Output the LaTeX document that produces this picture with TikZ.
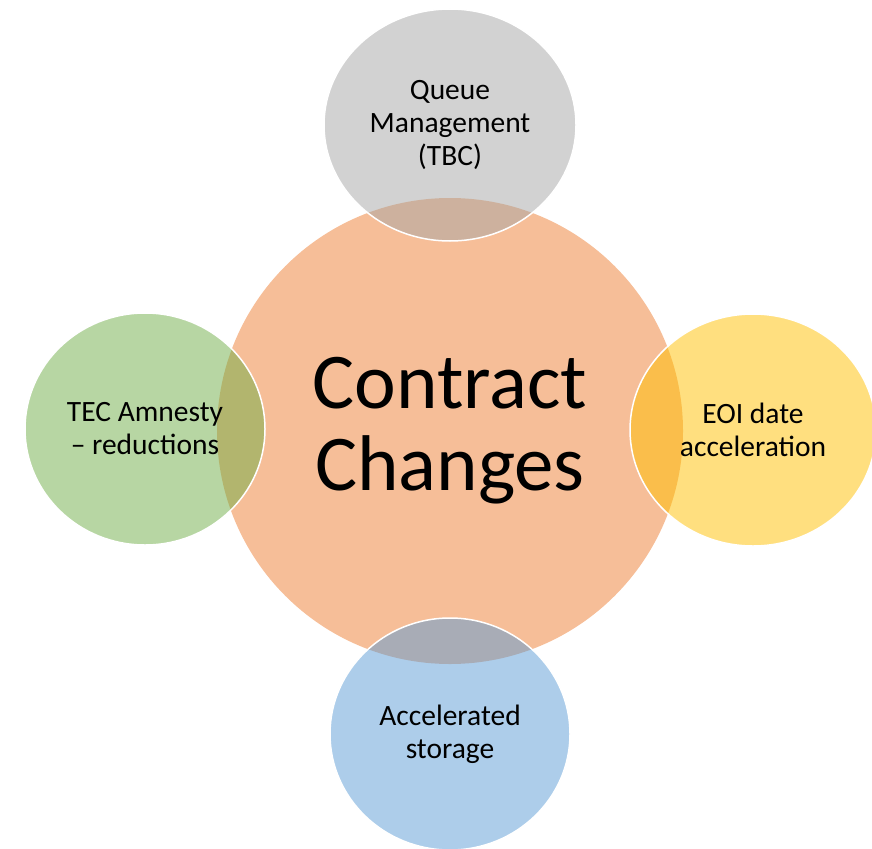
\documentclass[tikz,border=0pt]{standalone}
\usepackage{fontspec}
\setmainfont{Carlito}
\usetikzlibrary{shapes.geometric}
\definecolor{orangec}{HTML}{ED7D31}
\definecolor{grisc}{HTML}{A5A5A5}
\definecolor{jaunec}{HTML}{FFC000}
\definecolor{bleuc}{HTML}{5B9BD5}
\definecolor{vertc}{HTML}{70AD47}
\tikzset{satellite/.style={ellipse,draw=white,line width=1.5pt,fill opacity=.5,text opacity=1,
  inner sep=0pt,align=center,font=\fontsize{29.5}{33}\selectfont}}

\begin{document}
\begin{tikzpicture}[x=1pt,y=-1pt]
 \useasboundingbox (0,0) rectangle (872,848);
 %cercle central
 \node [circle,fill=orangec,fill opacity=.5,text opacity=1,inner sep=0pt,minimum size=466pt,
   align=center,font=\fontsize{79}{82}\selectfont] (contrat) at (450,431) {Contract\\Changes};
 %cercle 1 (haut)
 \node [satellite,fill=grisc,minimum width=252pt,minimum height=232pt] (file) at (450,125) {Queue\\Management\\(TBC)};
 %cercle 2 (droite)
 \node [satellite,fill=jaunec,minimum width=246pt,minimum height=232pt] (eoi) at (753,430) {EOI date\\acceleration};
 %cercle 3 (bas)
 \node [satellite,fill=bleuc,minimum width=240pt,minimum height=232pt] (stockage) at (450,734) {Accelerated\\storage};
 %cercle 4 (gauche)
 \node [satellite,fill=vertc,minimum width=240pt,minimum height=232pt] (tec) at (145,429) {TEC Amnesty\\– reductions};
\end{tikzpicture}
\end{document}
